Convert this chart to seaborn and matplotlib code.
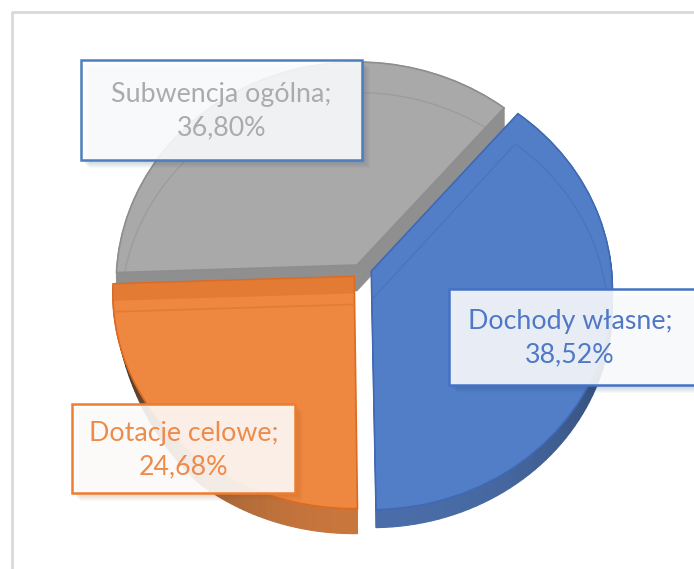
import numpy as np
import seaborn as sns
import matplotlib
matplotlib.use("Agg")
import matplotlib.pyplot as plt
from matplotlib.patches import Rectangle
from matplotlib.transforms import Transform

# data
labels = ["Dochody własne", "Dotacje celowe", "Subwencja ogólna"]
values = [38.52, 24.68, 36.80]
value_texts = ["38,52%", "24,68%", "36,80%"]

top_colors = ["#527EC8", "#EE8740", "#A9A9A9"]
edge_colors = ["#3F69B4", "#DD6A1E", "#8E8E8E"]
side_near = ["#4A6DA9", "#C8763C", "#A0A0A0"]
side_far = ["#35507C", "#4F3A2C", "#9A9A9A"]
text_colors = ["#4F78C6", "#EE8B4A", "#ABABAB"]
box_edges = ["#4472C4", "#ED7D31", "#4D7EBE"]
# box: left, top, right, bottom in pixels
boxes = [(449, 289, 695, 385), (72, 404, 295, 493), (81, 60, 362, 160)]
depths = [18, 25, 26]
# slice placement: centre x, centre y, vertical radius
places = [(360, 267.5, 219), (360, 271, 213), (357, 265, 219)]


# tilted pie: far side looks smaller than the near side
class Tilt(Transform):
    input_dims = 2
    output_dims = 2

    def __init__(self, cx=357, cy=266, rx=240, ry=219, k=0.079):
        super().__init__()
        self.cx, self.cy, self.rx, self.ry, self.k = cx, cy, rx, ry, k

    def transform_non_affine(self, v):
        v = np.asarray(v, dtype=float)
        s = 1 + self.k * v[:, 1]
        return np.column_stack([self.cx + self.rx * v[:, 0] / s,
                                self.cy - self.ry * v[:, 1] / s])


sns.set_theme(style="white")
plt.rcParams["font.family"] = ["Lato", "DejaVu Sans"]

fig = plt.figure(figsize=(6.94, 5.69), dpi=100, facecolor="white")
ax = fig.add_axes([0, 0, 1, 1])
wedges, _ = ax.pie(values, colors=top_colors, startangle=49.5, counterclock=False,
                   explode=[0.05, 0.035, 0], radius=1)
ax.set_aspect("auto")
ax.set_xlim(0, 694)
ax.set_ylim(569, 0)
ax.axis("off")


def outline(w, scale=1.0, shift=0.0, n=80):
    t = np.radians(np.linspace(w.theta1, w.theta2, n))
    cx, cy = w.center
    xs = cx + scale * w.r * np.cos(t)
    ys = cy + scale * w.r * np.sin(t) + shift
    return xs, ys


order = [2, 0, 1]  # grey first, orange on top
for rank, i in enumerate(order):
    w = wedges[i]
    z = 2 + rank * 2
    d = depths[i]
    cx0, cy0, ry0 = places[i]
    tilt = Tilt(cx=cx0, cy=cy0, ry=ry0)
    to_px = tilt + ax.transData

    # side of the slice: arc part, dark towards the far end
    xs, ys = outline(w)
    px = tilt.transform_non_affine(np.column_stack([xs, ys]))
    near = np.array(matplotlib.colors.to_rgb(side_near[i]))
    far = np.array(matplotlib.colors.to_rgb(side_far[i]))
    mid_y = px[:, 1].max()
    for a, b in zip(px[:-1], px[1:]):
        f = np.clip((mid_y - a[1]) / 140, 0, 1)
        col = near * (1 - f) + far * f
        # orange leans forward, its side thins out going up the left edge
        da, db = d, d
        if i == 1:
            da = d * np.clip((a[1] - 350) / 110, 0, 1)
            db = d * np.clip((b[1] - 350) / 110, 0, 1)
        ax.fill([a[0], b[0], b[0], a[0]], [a[1], b[1], b[1] + db, a[1] + da],
                color=col, lw=0.8, zorder=z)

    # cut faces of the slice
    apex = tilt.transform_non_affine(np.array([w.center]))[0]
    ends = [px[0]] if i == 1 else [px[0], px[-1]]
    for end in ends:
        ax.fill([apex[0], end[0], end[0], apex[0]],
                [apex[1], end[1], end[1] + d, apex[1] + d],
                color="#8F8F8F" if i == 2 else side_near[i], lw=0.4, zorder=z)

    # top of the slice
    w.set_transform(to_px)
    w.set_edgecolor(edge_colors[i])
    w.set_linewidth(1.2)
    w.set_zorder(z + 1)

    # bevel line inside the top
    if i != 1:
        xs, ys = outline(w, 0.97, -0.13)
        cx, cy = w.center
        xl = [cx] + list(xs) + [cx]
        yl = [cy - 0.13] + list(ys) + [cy - 0.13]
        ln, = ax.plot(xl, yl, color=edge_colors[i], lw=1, alpha=0.45,
                      transform=to_px, zorder=z + 1.5)
        ln.set_clip_path(w)
    else:
        # orange slice shows a darker band along its upper edge
        left = px[-1] if px[-1][0] < apex[0] else px[0]
        band, = ax.fill([apex[0], left[0], left[0], apex[0]],
                        [apex[1], left[1], left[1] + 17, apex[1] + 17],
                        color="#DE7530", alpha=0.65, lw=0, zorder=z + 1.5)
        band.set_clip_path(w)
        ln, = ax.plot([left[0], apex[0]], [left[1] + 28, apex[1] + 28],
                      color="#E57A33", lw=1.2, zorder=z + 1.5)
        ln.set_clip_path(w)

# label boxes
for i, (x0, y0, x1, y1) in enumerate(boxes):
    for s in range(1, 8):
        ax.add_patch(Rectangle((x0 + 1 + s, y0 + 1 + s), x1 - x0, y1 - y0, facecolor="#2F4F80"
                               if i != 1 else "#A06030", alpha=0.035, lw=0, zorder=9))
    ax.add_patch(Rectangle((x0, y0), x1 - x0, y1 - y0, facecolor="white", alpha=0.88,
                           lw=0, zorder=10))
    ax.add_patch(Rectangle((x0, y0), x1 - x0, y1 - y0, fill=False, edgecolor=box_edges[i],
                           lw=1.8, zorder=11))
    ax.text((x0 + x1) / 2 - (2 if i == 0 else 0), (y0 + y1) / 2 + 1.5,
            labels[i] + ";\n" + value_texts[i],
            color=text_colors[i], fontsize=19.3, ha="center", va="center",
            linespacing=1.42, zorder=12)

# outer frame of the chart area
ax.plot([12, 12, 694], [569, 12, 12], color="#D9D9D9", lw=2, zorder=1)

fig.savefig("out.png", dpi=100)
